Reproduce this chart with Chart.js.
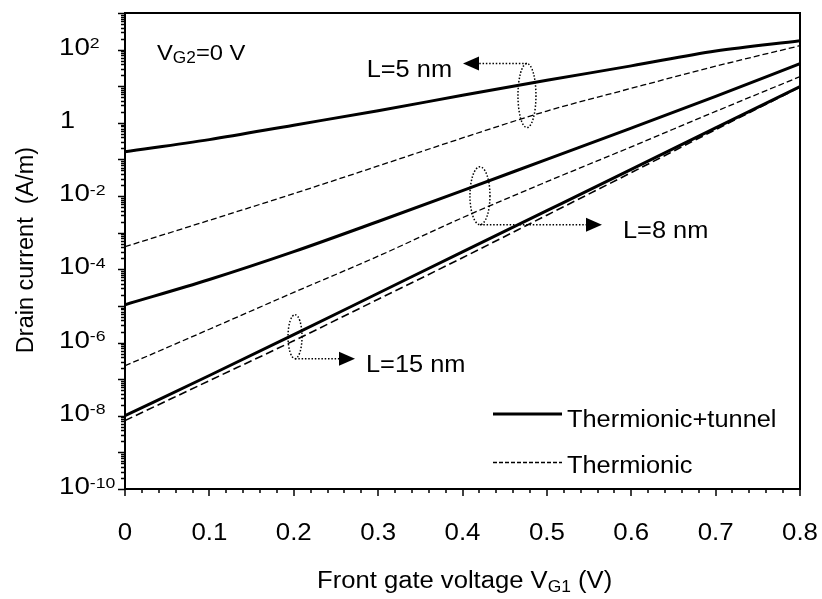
<!DOCTYPE html>
<html>
<head>
<meta charset="utf-8">
<script src="https://cdn.jsdelivr.net/npm/chart.js@4.4.0/dist/chart.umd.min.js"></script>
<style>
  html, body { margin: 0; padding: 0; background: #fff; }
</style>
</head>
<body>
<canvas id="c" width="822" height="599"></canvas>
<script>
// front gate voltage (V)
const vg1 = [0, 0.1, 0.2, 0.3, 0.4, 0.5, 0.6, 0.7, 0.8];

// drain current (A/m)
const l5Total = [0.163, 0.348, 0.865, 2.15, 5.64, 14.5, 36.0, 92.0, 176];
const l5Therm = [4.14e-4, 2.18e-3, 1.17e-2, 6.64e-2, 0.386, 2.10, 8.77, 35.2, 128];
const l8Total = [1.08e-5, 5.26e-5, 3.03e-4, 2.02e-3, 1.41e-2, 0.101, 0.721, 5.30, 41.4];
const l8Therm = [2.32e-7, 2.31e-6, 2.34e-5, 2.28e-4, 2.57e-3, 2.47e-2, 0.221, 2.05, 18.3];
const l15Total = [1.0e-8, 1.26e-7, 1.64e-6, 2.22e-5, 3.01e-4, 3.99e-3, 5.33e-2, 0.73, 9.75];
const l15Therm = [7.4e-9, 9.1e-8, 1.12e-6, 1.52e-5, 2.07e-4, 3.01e-3, 4.37e-2, 0.652, 9.44];

// tick labels
const xTickLabels = ['0', '0.1', '0.2', '0.3', '0.4', '0.5', '0.6', '0.7', '0.8'];
const yTickExps = [2, 0, -2, -4, -6, -8, -10];

const FONT = '"Liberation Sans", Arial, sans-serif';

function pts(ys) {
  return vg1.map((v, i) => ({ x: v, y: ys[i] }));
}

function solid(label, ys) {
  return { label: label, data: pts(ys), borderColor: '#000', borderWidth: 3,
    pointRadius: 0, cubicInterpolationMode: 'monotone' };
}
function dashed(label, ys, dash, w) {
  return { label: label, data: pts(ys), borderColor: '#000', borderWidth: w,
    borderDash: dash, pointRadius: 0, cubicInterpolationMode: 'monotone' };
}

// draw a run of text pieces (for sub/superscripts), a little wider like the picture
function rich(ctx, parts, x, y, align, sx) {
  let w = 0;
  parts.forEach(p => { ctx.font = p[1] + 'px ' + FONT; w += ctx.measureText(p[0]).width; });
  ctx.save();
  ctx.translate(x, y);
  ctx.scale(sx || 1, 1);
  let cx = align === 'center' ? -w / 2 : (align === 'right' ? -w : 0);
  ctx.textAlign = 'left';
  ctx.textBaseline = 'alphabetic';
  ctx.fillStyle = '#000';
  parts.forEach(p => {
    ctx.font = p[1] + 'px ' + FONT;
    ctx.fillText(p[0], cx, p[2] || 0);
    cx += ctx.measureText(p[0]).width;
  });
  ctx.restore();
}

// annotation groups in data units
const groups = [
  { x: 0.4764, yTop: Math.pow(10, 1.62), yBot: Math.pow(10, -0.13), rx: 9,
    side: 'top', tipX: 0.4006, text: 'L=5 nm', textX: 0.3876, textY: Math.pow(10, 1.26), dir: -1 },
  { x: 0.4207, yTop: Math.pow(10, -1.2), yBot: Math.pow(10, -2.78), rx: 10,
    side: 'bot', tipX: 0.5653, text: 'L=8 nm', textX: 0.5902, textY: Math.pow(10, -3.14), dir: 1 },
  { x: 0.2015, yTop: Math.pow(10, -5.24), yBot: Math.pow(10, -6.44), rx: 7,
    side: 'bot', tipX: 0.2726, text: 'L=15 nm', textX: 0.2856, textY: Math.pow(10, -6.8), dir: 1 }
];

const decor = {
  id: 'decor',
  afterDraw(chart) {
    const ctx = chart.ctx, a = chart.chartArea;
    const xs = chart.scales.x, ys = chart.scales.y;
    ctx.save();
    ctx.strokeStyle = '#000';
    ctx.fillStyle = '#000';

    // plot frame
    ctx.lineWidth = 2;
    ctx.strokeRect(a.left, a.top, a.right - a.left, a.bottom - a.top);

    // x tick marks and labels
    ctx.lineWidth = 1.5;
    xs.ticks.forEach(t => {
      const px = Math.round(xs.getPixelForValue(t.value));
      const major = Math.abs(t.value * 10 - Math.round(t.value * 10)) < 1e-6;
      ctx.beginPath();
      ctx.moveTo(px, a.bottom);
      ctx.lineTo(px, a.bottom + (major ? 7 : 4));
      ctx.stroke();
    });
    xTickLabels.forEach(s => {
      rich(ctx, [[s, 23.5]], xs.getPixelForValue(parseFloat(s)), 540, 'center', 1.1);
    });

    // y tick marks and labels
    ys.ticks.forEach(t => {
      const py = Math.round(ys.getPixelForValue(t.value)) + 0.5;
      const e = Math.log10(t.value);
      const major = Math.abs(e - Math.round(e)) < 1e-9;
      ctx.beginPath();
      ctx.moveTo(a.left, py);
      ctx.lineTo(a.left - (major ? 7 : 4), py);
      ctx.stroke();
    });
    yTickExps.forEach(n => {
      const py = ys.getPixelForValue(Math.pow(10, n)) + 5;
      if (n === 0) rich(ctx, [['1', 23.5]], 60, py, 'left', 1.15);
      else rich(ctx, [['10', 23.5], [String(n), 15, -6.5]], 59, py, 'left', 1.18);
    });

    // axis titles
    rich(ctx, [['Front gate voltage V', 23.5], ['G1', 16, 4], [' (V)', 23.5]], 317, 588, 'left', 1.09);
    ctx.save();
    ctx.translate(33, 250);
    ctx.rotate(-Math.PI / 2);
    rich(ctx, [['Drain current  (A/m)', 23.5]], 0, 0, 'center', 1);
    ctx.restore();

    // V_G2 note
    rich(ctx, [['V', 22], ['G2', 16, 3], ['=0 V', 22]], 157, 60, 'left', 1.08);

    // L groups: dotted ellipse, dotted leader, arrow head, label
    groups.forEach(g => {
      const cx = xs.getPixelForValue(g.x);
      const yt = ys.getPixelForValue(g.yTop), yb = ys.getPixelForValue(g.yBot);
      ctx.lineWidth = 1.5;
      ctx.setLineDash([1.5, 1.8]);
      ctx.beginPath();
      ctx.ellipse(cx, (yt + yb) / 2, g.rx, (yb - yt) / 2, 0, 0, Math.PI * 2);
      ctx.stroke();
      const ly = g.side === 'top' ? yt : yb;
      const tip = xs.getPixelForValue(g.tipX);
      const base = tip - g.dir * 16;
      ctx.beginPath();
      ctx.moveTo(cx, ly);
      ctx.lineTo(base, ly);
      ctx.stroke();
      ctx.setLineDash([]);
      ctx.beginPath();
      ctx.moveTo(tip, ly);
      ctx.lineTo(base, ly - 7);
      ctx.lineTo(base, ly + 7);
      ctx.closePath();
      ctx.fill();
      const tx = xs.getPixelForValue(g.textX), ty = ys.getPixelForValue(g.textY);
      rich(ctx, [[g.text, 23.5]], tx, ty, g.dir < 0 ? 'right' : 'left', 1.08);
    });

    // legend
    ctx.setLineDash([]);
    ctx.lineWidth = 3;
    ctx.beginPath(); ctx.moveTo(493, 414); ctx.lineTo(562, 414); ctx.stroke();
    rich(ctx, [['Thermionic+tunnel', 23.5]], 567, 427, 'left', 1.08);
    ctx.lineWidth = 1.3;
    ctx.setLineDash([4, 2]);
    ctx.beginPath(); ctx.moveTo(493, 462.5); ctx.lineTo(562, 462.5); ctx.stroke();
    ctx.setLineDash([]);
    rich(ctx, [['Thermionic', 23.5]], 567, 473, 'left', 1.08);

    ctx.restore();
  }
};

new Chart(document.getElementById('c'), {
  type: 'line',
  data: {
    datasets: [
      solid('L=5 nm, thermionic+tunnel', l5Total),
      dashed('L=5 nm, thermionic', l5Therm, [6, 3], 1.3),
      solid('L=8 nm, thermionic+tunnel', l8Total),
      dashed('L=8 nm, thermionic', l8Therm, [6, 3], 1.3),
      solid('L=15 nm, thermionic+tunnel', l15Total),
      dashed('L=15 nm, thermionic', l15Therm, [8, 4], 1.6)
    ]
  },
  options: {
    responsive: false,
    animation: false,
    devicePixelRatio: 1,
    layout: { padding: { top: 13, right: 22, bottom: 0, left: 0 } },
    plugins: { legend: { display: false }, tooltip: { enabled: false } },
    scales: {
      x: {
        type: 'linear', min: 0, max: 0.8,
        grid: { display: false }, border: { display: false },
        ticks: { display: false },
        afterBuildTicks: s => {
          const t = [];
          for (let i = 0; i <= 40; i++) t.push({ value: i * 0.02 });
          s.ticks = t;
        },
        afterFit: s => { s.height = 110; }
      },
      y: {
        type: 'logarithmic', min: 1e-10, max: 1e3,
        grid: { display: false }, border: { display: false },
        ticks: { display: false },
        afterBuildTicks: s => {
          const t = [];
          for (let n = -10; n <= 2; n++) {
            for (let k = 1; k <= 9; k++) t.push({ value: k * Math.pow(10, n) });
          }
          t.push({ value: 1e3 });
          s.ticks = t;
        },
        afterFit: s => { s.width = 125; }
      }
    }
  },
  plugins: [decor]
});
</script>
</body>
</html>
